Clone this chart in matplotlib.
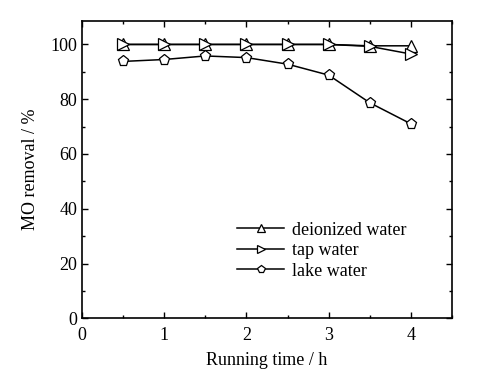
import matplotlib
matplotlib.use("Agg")
import matplotlib.pyplot as plt
from matplotlib.ticker import MultipleLocator

plt.rcParams['font.family'] = ['Liberation Serif', 'DejaVu Serif']

time_h = [0.5, 1.0, 1.5, 2.0, 2.5, 3.0, 3.5, 4.0]
deionized = [100.0, 100.0, 100.0, 100.0, 100.0, 100.0, 99.5, 99.5]
tap = [100.0, 100.0, 100.0, 100.0, 100.0, 100.0, 99.3, 96.5]
lake = [93.8, 94.5, 95.8, 95.2, 92.8, 88.8, 78.7, 71.0]

fig = plt.figure(figsize=(4.85, 3.78), dpi=100)
ax = fig.add_axes([0.169, 0.158, 0.763, 0.786])

kw = dict(color='black', lw=1.1, markerfacecolor='white', markeredgecolor='black',
          markeredgewidth=0.9, markersize=8)
ax.plot(time_h, deionized, marker='^', label='deionized water', **kw)
ax.plot(time_h, tap, marker='>', label='tap water', **kw)
ax.plot(time_h, lake, marker='p', label='lake water', **kw)

ax.set_xlim(0, 4.5)
ax.set_ylim(0, 108.5)
ax.xaxis.set_major_locator(MultipleLocator(1))
ax.xaxis.set_minor_locator(MultipleLocator(0.5))
ax.yaxis.set_major_locator(MultipleLocator(20))
ax.yaxis.set_minor_locator(MultipleLocator(10))
ax.tick_params(which='both', direction='in', top=True, right=True, labelsize=13)
ax.tick_params(which='major', length=4, width=1)
ax.tick_params(which='minor', length=2.5, width=1)
ax.tick_params(axis='x', which='major', pad=6)
for s in ax.spines.values():
    s.set_linewidth(1.2)

ax.set_xlabel('Running time / h', fontsize=13, labelpad=6)
ax.set_ylabel('MO removal / %', fontsize=13, labelpad=8)

leg = ax.legend(loc='lower right', bbox_to_anchor=(0.92, 0.075), frameon=False,
                fontsize=13, handlelength=2.6, handletextpad=0.4, labelspacing=0.2,
                markerscale=0.75)

fig.savefig('out.png', dpi=100)
